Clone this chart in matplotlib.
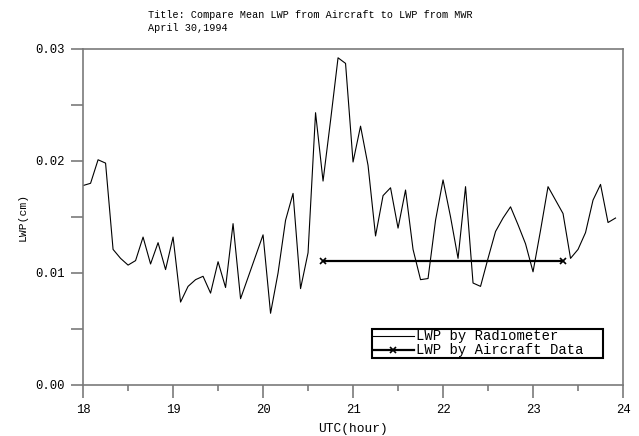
"""
Comparaison du LWP moyen avion / radiometre, 30 avril 1994
"""

import numpy as np
import matplotlib
matplotlib.use('Agg')
import matplotlib.pyplot as plt
from matplotlib.ticker import MultipleLocator, FormatStrFormatter

# Donnees du radiometre (pas de 5 minutes, 18h00 -> 23h55 UTC)
radiometer_hour = np.arange(72) / 12.0 + 18.0
radiometer_lwp = [
    0.0178, 0.0180, 0.0201, 0.0198, 0.0121, 0.0113, 0.0107, 0.0111,
    0.0132, 0.0108, 0.0127, 0.0103, 0.0132, 0.0074, 0.0088, 0.0094,
    0.0097, 0.0082, 0.0110, 0.0087, 0.0144, 0.0077, 0.0096, 0.0115,
    0.0134, 0.0064, 0.0100, 0.0147, 0.0171, 0.0086, 0.0118, 0.0243,
    0.0182, 0.0236, 0.0292, 0.0287, 0.0199, 0.0231, 0.0196, 0.0133,
    0.0169, 0.0176, 0.0140, 0.0174, 0.0121, 0.0094, 0.0095, 0.0147,
    0.0183, 0.0150, 0.0113, 0.0177, 0.0091, 0.0088, 0.0113, 0.0137,
    0.0149, 0.0159, 0.0143, 0.0126, 0.0101, 0.0138, 0.0177, 0.0165,
    0.0153, 0.0113, 0.0121, 0.0136, 0.0165, 0.0179, 0.0145, 0.0149,
]

# Moyenne avion sur la periode de vol
aircraft_hour = [20.667, 23.333]
aircraft_lwp = [0.0111, 0.0111]

x_ticks = [18, 19, 20, 21, 22, 23, 24]
y_ticks = [0.00, 0.01, 0.02, 0.03]

plt.rcParams['font.family'] = ['Liberation Mono', 'DejaVu Sans Mono']
plt.rcParams['font.size'] = 7.3

fig = plt.figure(figsize=(6.39, 4.36), dpi=100)
ax = fig.add_axes([0.130, 0.117, 0.845, 0.771])

ax.plot(radiometer_hour, radiometer_lwp, color='black', linewidth=0.8,
        label='LWP by Radiometer')
ax.plot(aircraft_hour, aircraft_lwp, color='black', linewidth=1.6,
        marker='x', markersize=5, markeredgewidth=1.2,
        label='LWP by Aircraft Data')

ax.set_xlim(18, 24)
ax.set_ylim(0, 0.03)
ax.set_xticks(x_ticks)
ax.set_yticks(y_ticks)
ax.xaxis.set_minor_locator(MultipleLocator(0.5))
ax.yaxis.set_minor_locator(MultipleLocator(0.005))
ax.yaxis.set_major_formatter(FormatStrFormatter('%.2f'))

grey = '#7a7a7a'
for spine in ax.spines.values():
    spine.set_color(grey)
    spine.set_linewidth(1.2)
ax.tick_params(axis='x', which='major', direction='out', length=9,
               width=1.2, color=grey, pad=5, labelsize=8.8)
ax.tick_params(axis='x', which='minor', direction='out', length=4,
               width=1.2, color=grey)
ax.tick_params(axis='y', which='both', direction='out', length=9,
               width=1.2, color=grey, pad=4, labelsize=8.8)

ax.set_xlabel('UTC(hour)', labelpad=5, fontsize=9.3)
ax.set_ylabel('LWP(cm)', labelpad=6, fontsize=8.2)

fig.text(0.2316, 0.965, 'Title: Compare Mean LWP from Aircraft to LWP from MWR',
         ha='left', va='center')
fig.text(0.2316, 0.935, 'April 30,1994', ha='left', va='center')

leg = ax.legend(loc='lower left', bbox_to_anchor=(0.535, 0.080, 0.428, 0.084),
                mode='expand', borderaxespad=0, fancybox=False, framealpha=1,
                edgecolor='black', handlelength=3.0, handletextpad=0.15,
                borderpad=0.05, labelspacing=0.0, fontsize=10)
leg.get_frame().set_linewidth(1.5)

plt.savefig('out.png', dpi=100)
